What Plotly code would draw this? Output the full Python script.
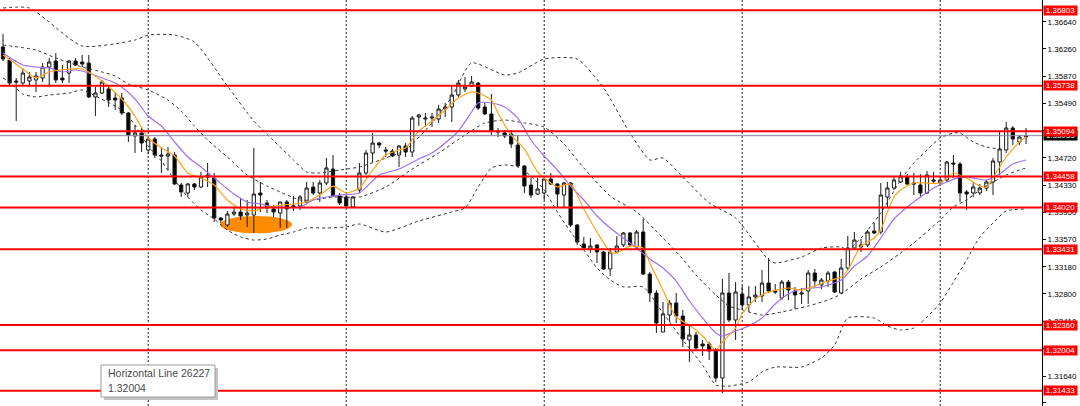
import plotly.graph_objects as go

# ---------------- data ----------------
opens = [1.36285,1.36101,1.35805,1.35776,1.35805,1.35819,1.35847,1.36002,1.36087,1.35847,
         1.35917,1.36087,1.36073,1.36059,1.35579,1.35635,1.35692,1.35565,1.35565,1.35353,
         1.35028,1.35071,1.34831,1.34986,1.34760,1.34746,1.34760,1.34337,1.34224,1.34351,
         1.34308,1.34449,1.34435,1.33871,1.33772,1.33927,1.33955,1.33913,1.33913,1.34224,
         1.34083,1.33998,1.33941,1.34097,1.34026,1.34040,1.34097,1.34308,1.34224,1.34365,
         1.34562,1.34181,1.34167,1.34026,1.34266,1.34506,1.34788,1.34929,1.34831,1.34816,
         1.34760,1.34887,1.34802,1.35296,1.35268,1.35282,1.35268,1.35409,1.35438,1.35607,
         1.35692,1.35734,1.35776,1.35438,1.35339,1.35099,1.35071,1.35056,1.34901,1.34605,
         1.34337,1.34209,1.34224,1.34421,1.34351,1.34195,1.34365,1.33772,1.33504,1.33433,
         1.33490,1.33391,1.33151,1.33391,1.33490,1.33659,1.33461,1.33673,1.33080,1.32812,
         1.32261,1.32501,1.32671,1.32487,1.32149,1.32219,1.32092,1.32092,1.32007,1.31612,
         1.32812,1.32431,1.32798,1.32643,1.32756,1.32770,1.32953,1.32840,1.32741,1.32967,
         1.32840,1.32798,1.32840,1.33094,1.32925,1.32981,1.33108,1.32812,1.33165,1.33447,
         1.33461,1.33490,1.33687,1.33673,1.34167,1.34294,1.34379,1.34449,1.34365,1.34337,
         1.34224,1.34407,1.34365,1.34407,1.34647,1.34633,1.34238,1.34224,1.34224,1.34294,
         1.34379,1.34661,1.34831,1.35141,1.34944,1.35014]
highs = [1.36468,1.36129,1.35847,1.35988,1.35932,1.35932,1.36059,1.36129,1.36200,1.36030,
         1.36101,1.36129,1.36172,1.36172,1.35720,1.35819,1.35748,1.35635,1.35635,1.35367,
         1.35184,1.35155,1.35014,1.35014,1.34873,1.34873,1.34802,1.34365,1.34365,1.34365,
         1.34520,1.34647,1.34506,1.33885,1.33970,1.34012,1.34153,1.34125,1.34859,1.34379,
         1.34125,1.34054,1.34097,1.34125,1.34181,1.34195,1.34379,1.34379,1.34407,1.34718,
         1.34760,1.34224,1.34195,1.34181,1.34647,1.34831,1.35071,1.34944,1.34873,1.34845,
         1.34901,1.34929,1.35310,1.35339,1.35353,1.35353,1.35466,1.35494,1.35748,1.35819,
         1.35861,1.35875,1.35790,1.35494,1.35621,1.35141,1.35113,1.35113,1.35042,1.34619,
         1.34435,1.34435,1.34435,1.34506,1.34365,1.34379,1.34379,1.33786,1.33603,1.33588,
         1.33504,1.33405,1.33447,1.33617,1.33673,1.33673,1.33701,1.33857,1.33108,1.32854,
         1.32685,1.32713,1.32812,1.32572,1.32374,1.32261,1.32149,1.32120,1.32036,1.33010,
         1.33094,1.32967,1.32911,1.32911,1.32911,1.33137,1.33306,1.32939,1.32995,1.32995,
         1.32897,1.32883,1.33137,1.33151,1.33024,1.33123,1.33123,1.33292,1.33617,1.33673,
         1.33574,1.33701,1.33800,1.34365,1.34379,1.34449,1.34520,1.34492,1.34506,1.34492,
         1.34534,1.34520,1.34449,1.34675,1.34760,1.34661,1.34266,1.34365,1.34351,1.34407,
         1.34718,1.35085,1.35226,1.35169,1.35042,1.35141]
lows = [1.36087,1.35734,1.35240,1.35748,1.35734,1.35649,1.35790,1.35748,1.35776,1.35776,
        1.35776,1.36016,1.36002,1.35565,1.35310,1.35621,1.35438,1.35395,1.35325,1.34944,
        1.34788,1.34802,1.34774,1.34718,1.34506,1.34548,1.34337,1.34167,1.34167,1.34266,
        1.34294,1.34308,1.33814,1.33800,1.33744,1.33899,1.33843,1.33744,1.33659,1.33955,
        1.33941,1.33885,1.33730,1.33730,1.33970,1.33984,1.34083,1.34195,1.34097,1.34337,
        1.34167,1.34054,1.34012,1.34012,1.34224,1.34478,1.34661,1.34859,1.34732,1.34732,
        1.34591,1.34732,1.34732,1.35169,1.35155,1.35155,1.35212,1.35296,1.35226,1.35579,
        1.35649,1.35720,1.35395,1.35325,1.35042,1.35014,1.35000,1.34859,1.34591,1.34224,
        1.34153,1.34195,1.34125,1.34337,1.34026,1.34026,1.33744,1.33490,1.33433,1.33377,
        1.33236,1.33137,1.33052,1.33377,1.33461,1.33461,1.33419,1.33066,1.32685,1.32247,
        1.32261,1.32403,1.32388,1.32050,1.31838,1.32007,1.31923,1.31866,1.31556,1.31400,
        1.32403,1.32149,1.32572,1.32544,1.32685,1.32685,1.32812,1.32798,1.32713,1.32713,
        1.32586,1.32657,1.32657,1.32897,1.32868,1.32897,1.32812,1.32798,1.33137,1.33419,
        1.33391,1.33461,1.33645,1.33645,1.34026,1.34266,1.34365,1.34337,1.34195,1.34167,
        1.34209,1.34365,1.34337,1.34379,1.34435,1.34097,1.33984,1.34167,1.34195,1.34252,
        1.34195,1.34478,1.34788,1.34901,1.34901,1.34915]
closes = [1.36115,1.35776,1.35790,1.35917,1.35861,1.35875,1.36002,1.36073,1.35819,1.35819,
          1.36087,1.36030,1.36045,1.35579,1.35635,1.35790,1.35536,1.35536,1.35353,1.35042,
          1.35071,1.34929,1.34986,1.34760,1.34746,1.34774,1.34351,1.34238,1.34351,1.34308,
          1.34449,1.34478,1.33871,1.33843,1.33927,1.33955,1.33899,1.33941,1.34209,1.34195,
          1.34012,1.33955,1.34097,1.33998,1.34040,1.34167,1.34294,1.34224,1.34365,1.34577,
          1.34181,1.34083,1.34040,1.34167,1.34506,1.34788,1.34929,1.34901,1.34816,1.34746,
          1.34887,1.34802,1.35282,1.35325,1.35282,1.35296,1.35409,1.35438,1.35607,1.35776,
          1.35720,1.35790,1.35423,1.35339,1.35099,1.35085,1.35028,1.34915,1.34605,1.34322,
          1.34195,1.34280,1.34421,1.34351,1.34209,1.34365,1.33772,1.33532,1.33447,1.33475,
          1.33391,1.33151,1.33391,1.33475,1.33659,1.33490,1.33673,1.33080,1.32812,1.32388,
          1.32516,1.32671,1.32487,1.32163,1.32219,1.32036,1.32064,1.31993,1.31612,1.32812,
          1.32431,1.32826,1.32643,1.32756,1.32784,1.32953,1.32840,1.32826,1.32967,1.32854,
          1.32784,1.32812,1.33094,1.32981,1.32995,1.33094,1.32826,1.33165,1.33447,1.33560,
          1.33490,1.33673,1.33659,1.34195,1.34294,1.34407,1.34464,1.34351,1.34351,1.34224,
          1.34478,1.34393,1.34407,1.34661,1.34633,1.34224,1.34209,1.34308,1.34294,1.34379,
          1.34675,1.34845,1.35141,1.34986,1.35014,1.35028]

# fast moving average (orange), read at bar positions
ma_fast_bar = [0,3,5,7,12,15,18,20,22,24,26,28,30,32,34,36,38,40,44,46,48,50,52,54,56,58,60,61,63,65,
               67,69,71,72,74,75,77,79,81,83,84,86,88,90,92,93,95,97,98,100,102,104,106,108,109,111,112,114,116,119,
               121,123,125,127,128,130,132,133,134,135,136,138,142,144,146,148,149,151,152,154,155]
ma_fast = [1.36172,1.35974,1.35847,1.35932,1.35974,1.35805,1.35551,1.35310,1.35000,1.34859,
           1.34746,1.34506,1.34435,1.34337,1.34125,1.33998,1.33970,1.34026,1.34068,1.34097,
           1.34195,1.34322,1.34224,1.34294,1.34548,1.34760,1.34831,1.34859,1.35099,1.35240,
           1.35395,1.35565,1.35649,1.35635,1.35536,1.35353,1.35042,1.34845,1.34520,1.34365,
           1.34308,1.34351,1.33998,1.33673,1.33391,1.33377,1.33475,1.33447,1.33236,1.32854,
           1.32473,1.32360,1.32205,1.32007,1.32120,1.32318,1.32516,1.32727,1.32826,1.32883,
           1.32854,1.32911,1.32981,1.33038,1.33137,1.33475,1.33588,1.33701,1.33955,1.34167,
           1.34266,1.34365,1.34365,1.34506,1.34435,1.34322,1.34308,1.34591,1.34732,1.34944,
           1.35014]

# slow moving average (purple)
ma_slow_bar = [0,3,5,7,9,11,13,15,17,18,20,22,24,26,28,30,32,35,37,39,
               41,45,47,49,51,54,57,60,63,65,67,69,71,72,74,76,78,80,82,84,
               86,88,90,92,94,96,98,100,102,104,106,108,109,111,113,115,117,119,121,124,
               127,129,131,133,135,137,139,141,143,145,147,149,151,153,155]
ma_slow = [1.36200,1.36030,1.36002,1.35988,1.35932,1.35960,1.35918,1.35847,1.35776,1.35720,
           1.35551,1.35310,1.35169,1.34944,1.34732,1.34591,1.34435,1.34209,1.34097,1.34068,
           1.34026,1.34026,1.34125,1.34167,1.34195,1.34224,1.34478,1.34562,1.34704,1.34788,
           1.34929,1.35099,1.35367,1.35494,1.35494,1.35438,1.35282,1.34972,1.34746,1.34548,
           1.34322,1.34125,1.33899,1.33730,1.33588,1.33447,1.33292,1.33165,1.32981,1.32699,
           1.32459,1.32247,1.32205,1.32276,1.32346,1.32459,1.32657,1.32798,1.32868,1.32897,
           1.32995,1.33193,1.33334,1.33588,1.33857,1.34026,1.34167,1.34294,1.34379,1.34449,
           1.34435,1.34407,1.34492,1.34633,1.34690]

# Bollinger bands (dotted)
bb_up_bar = [0,4,12,20,22,26,29,34,38,42,44,46,48,51,54,58,61,65,68,71,76,78,82,87,91,95,98,100,103,107,
             111,116,117,121,124,127,128,130,133,136,138,140,142,144,145,147,149,151]
bb_up = [1.36835,1.36835,1.36299,1.36383,1.36454,1.36454,1.36355,1.35734,1.35240,1.34873,
         1.34690,1.34520,1.34506,1.34548,1.34591,1.34718,1.34831,1.35212,1.35579,1.36059,
         1.35889,1.35917,1.36115,1.36115,1.35706,1.35071,1.34690,1.34718,1.34449,1.34083,
         1.33871,1.33278,1.33236,1.33320,1.33447,1.33461,1.33419,1.33588,1.33941,1.34407,
         1.34647,1.34831,1.35000,1.35071,1.35071,1.34944,1.34873,1.34845]
bb_mid_bar = [0,5,8,12,15,17,19,22,25,27,29,31,34,37,40,42,45,47,50,54,58,62,66,70,73,76,79,82,85,88,
              92,96,100,103,105,108,110,112,115,118,122,125,127,130,133,136,138,142,144,146,148,150,152,154,155]
bb_mid = [1.36313,1.36242,1.36129,1.36002,1.35932,1.35875,1.35762,1.35678,1.35536,1.35381,
          1.35169,1.34972,1.34732,1.34478,1.34322,1.34238,1.34125,1.34125,1.34167,1.34167,
          1.34308,1.34562,1.34788,1.35042,1.35212,1.35254,1.35212,1.35155,1.34915,1.34577,
          1.34181,1.33955,1.33588,1.33292,1.33066,1.32784,1.32629,1.32572,1.32501,1.32544,
          1.32629,1.32713,1.32798,1.33010,1.33179,1.33377,1.33518,1.33843,1.34026,1.34125,
          1.34266,1.34379,1.34478,1.34548,1.34577]
bb_low_bar = [0,1,3,5,7,10,12,14,18,20,22,24,26,28,30,32,34,36,38,40,42,44,46,49,52,54,58,63,68,70,
              72,74,76,78,80,82,84,86,88,90,92,94,97,100,103,106,108,110,113,115,117,121,124,126,128,132,134,136,138,140,
              142,144,146,148,150,152,155]
bb_low = [1.35847,1.35790,1.35621,1.35579,1.35607,1.35635,1.35678,1.35593,1.35395,1.35184,
          1.34887,1.34675,1.34407,1.34167,1.33984,1.33857,1.33701,1.33603,1.33560,1.33574,
          1.33631,1.33673,1.33730,1.33730,1.33744,1.33786,1.33673,1.33829,1.33955,1.34012,
          1.34308,1.34577,1.34619,1.34591,1.34464,1.34266,1.33955,1.33673,1.33419,1.33165,
          1.32995,1.32897,1.32897,1.32530,1.32149,1.31795,1.31513,1.31499,1.31556,1.31697,
          1.31767,1.31767,1.31894,1.32078,1.32459,1.32459,1.32346,1.32290,1.32318,1.32473,
          1.32671,1.32967,1.33278,1.33603,1.33800,1.33970,1.33998]

# horizontal support/resistance lines
levels = [1.36803, 1.35738, 1.35094, 1.34458, 1.34020, 1.33431, 1.32360, 1.32004, 1.31433]
bid_price = 1.35033

# right price axis ticks
tick_vals = [1.31260, 1.31640, 1.32030, 1.32410, 1.32800, 1.33180, 1.33570, 1.33950,
             1.34330, 1.34720, 1.35110, 1.35490, 1.35870, 1.36260, 1.36640]
tick_text = ["%.5f" % v for v in tick_vals]

# vertical separators (bar positions)
sep_bars = [22, 52, 82, 112, 142]

# highlighted area (orange ellipse) in bar / price units
ELL_X0, ELL_X1 = 32.9, 43.8
ELL_Y0, ELL_Y1 = 1.33655, 1.33900

tooltip_lines = ["Horizontal Line 26227", "1.32004"]

# ---------------- figure ----------------
for a, b in [(ma_fast_bar, ma_fast), (ma_slow_bar, ma_slow), (bb_up_bar, bb_up),
             (bb_mid_bar, bb_mid), (bb_low_bar, bb_low)]:
    assert len(a) == len(b), (len(a), len(b))
n = len(opens)
assert n == len(highs) == len(lows) == len(closes)
bars = list(range(n))

PLOT_W = 1042.0
PLOT_H = 406.0

fig = go.Figure()

fig.add_trace(go.Candlestick(
    x=bars, open=opens, high=highs, low=lows, close=closes,
    increasing=dict(line=dict(color="#1a1a1a", width=1), fillcolor="#ffffff"),
    decreasing=dict(line=dict(color="#1a1a1a", width=1), fillcolor="#000000"),
    whiskerwidth=0, showlegend=False, hoverinfo="skip"))

band_line = dict(color="#333333", width=1, dash="3px,3px", shape="spline", smoothing=0.6)
for xb, yb in [(bb_up_bar, bb_up), (bb_mid_bar, bb_mid), (bb_low_bar, bb_low)]:
    fig.add_trace(go.Scatter(x=xb, y=yb, mode="lines", line=band_line,
                             showlegend=False, hoverinfo="skip"))

fig.add_trace(go.Scatter(x=ma_slow_bar, y=ma_slow, mode="lines",
                         line=dict(color="#a070f0", width=1.2, shape="spline", smoothing=0.6),
                         showlegend=False, hoverinfo="skip"))
fig.add_trace(go.Scatter(x=ma_fast_bar, y=ma_fast, mode="lines",
                         line=dict(color="#ffa21a", width=1.2, shape="spline", smoothing=0.6),
                         showlegend=False, hoverinfo="skip"))

shapes = []
shapes.append(dict(type="circle", xref="x", yref="y", x0=ELL_X0, x1=ELL_X1, y0=ELL_Y0, y1=ELL_Y1,
                   fillcolor="#ff8c00", line=dict(width=0), layer="below"))
for b in sep_bars:
    shapes.append(dict(type="line", xref="x", yref="paper", x0=b, x1=b, y0=0, y1=1,
                       line=dict(color="#202020", width=1, dash="2px,2px"), layer="below"))
shapes.append(dict(type="line", xref="paper", yref="y", x0=0, x1=1, y0=bid_price, y1=bid_price,
                   line=dict(color="#7d8ea0", width=1), layer="above"))
for lv in levels:
    shapes.append(dict(type="line", xref="paper", yref="y", x0=0, x1=1, y0=lv, y1=lv,
                       line=dict(color="#ff0000", width=2), layer="above"))

# tooltip box with shadow
def px_x(p):
    return p / PLOT_W

def px_y(p):
    return 1 - p / PLOT_H

shapes.append(dict(type="rect", xref="paper", yref="paper",
                   x0=px_x(104), x1=px_x(218), y0=px_y(400), y1=px_y(368),
                   fillcolor="#c4c4c4", line=dict(width=0), layer="above"))
shapes.append(dict(type="rect", xref="paper", yref="paper",
                   x0=px_x(101), x1=px_x(215), y0=px_y(397), y1=px_y(365),
                   fillcolor="#ffffff", line=dict(color="#9a9a9a", width=1), layer="above"))

annotations = []
annotations.append(dict(x=1, xref="paper", xanchor="left", xshift=1, y=bid_price, yref="y",
                        yanchor="middle", text="%.5f" % bid_price, showarrow=False,
                        font=dict(family="Liberation Sans", size=8, color="#ffffff"),
                        bgcolor="#000000", width=33, height=9, borderpad=0))
for lv in levels:
    annotations.append(dict(x=1, xref="paper", xanchor="left", xshift=1, y=lv, yref="y",
                            yanchor="middle", text="%.5f" % lv, showarrow=False,
                            font=dict(family="Liberation Sans", size=8, color="#ffffff"),
                            bgcolor="#ff0000", width=33, height=9, borderpad=0))
for k, t in enumerate(tooltip_lines):
    annotations.append(dict(x=px_x(106), xref="paper", xanchor="left",
                            y=px_y(373 + 15 * k), yref="paper", yanchor="middle",
                            text=t, showarrow=False, align="left",
                            font=dict(family="Liberation Sans", size=10.5, color="#4a4a4a")))

fig.update_layout(
    width=1080, height=406,
    margin=dict(l=0, r=38, t=0, b=0),
    paper_bgcolor="#ffffff", plot_bgcolor="#ffffff",
    showlegend=False,
    shapes=shapes, annotations=annotations,
    xaxis=dict(range=[-3 / 6.6, (PLOT_W - 3) / 6.6], visible=False,
               rangeslider=dict(visible=False), showgrid=False, zeroline=False),
    yaxis=dict(range=[1.31217, 1.36948], side="right", showgrid=False, zeroline=False,
               showline=True, linecolor="#000000", linewidth=1,
               ticks="outside", ticklen=3, tickcolor="#000000",
               tickvals=tick_vals, ticktext=tick_text,
               tickfont=dict(family="Liberation Sans", size=8, color="#000000")),
)

fig.write_html("out.html", config={"displayModeBar": False},
               post_script="document.body.style.margin='0px';document.body.style.overflow='hidden';")
